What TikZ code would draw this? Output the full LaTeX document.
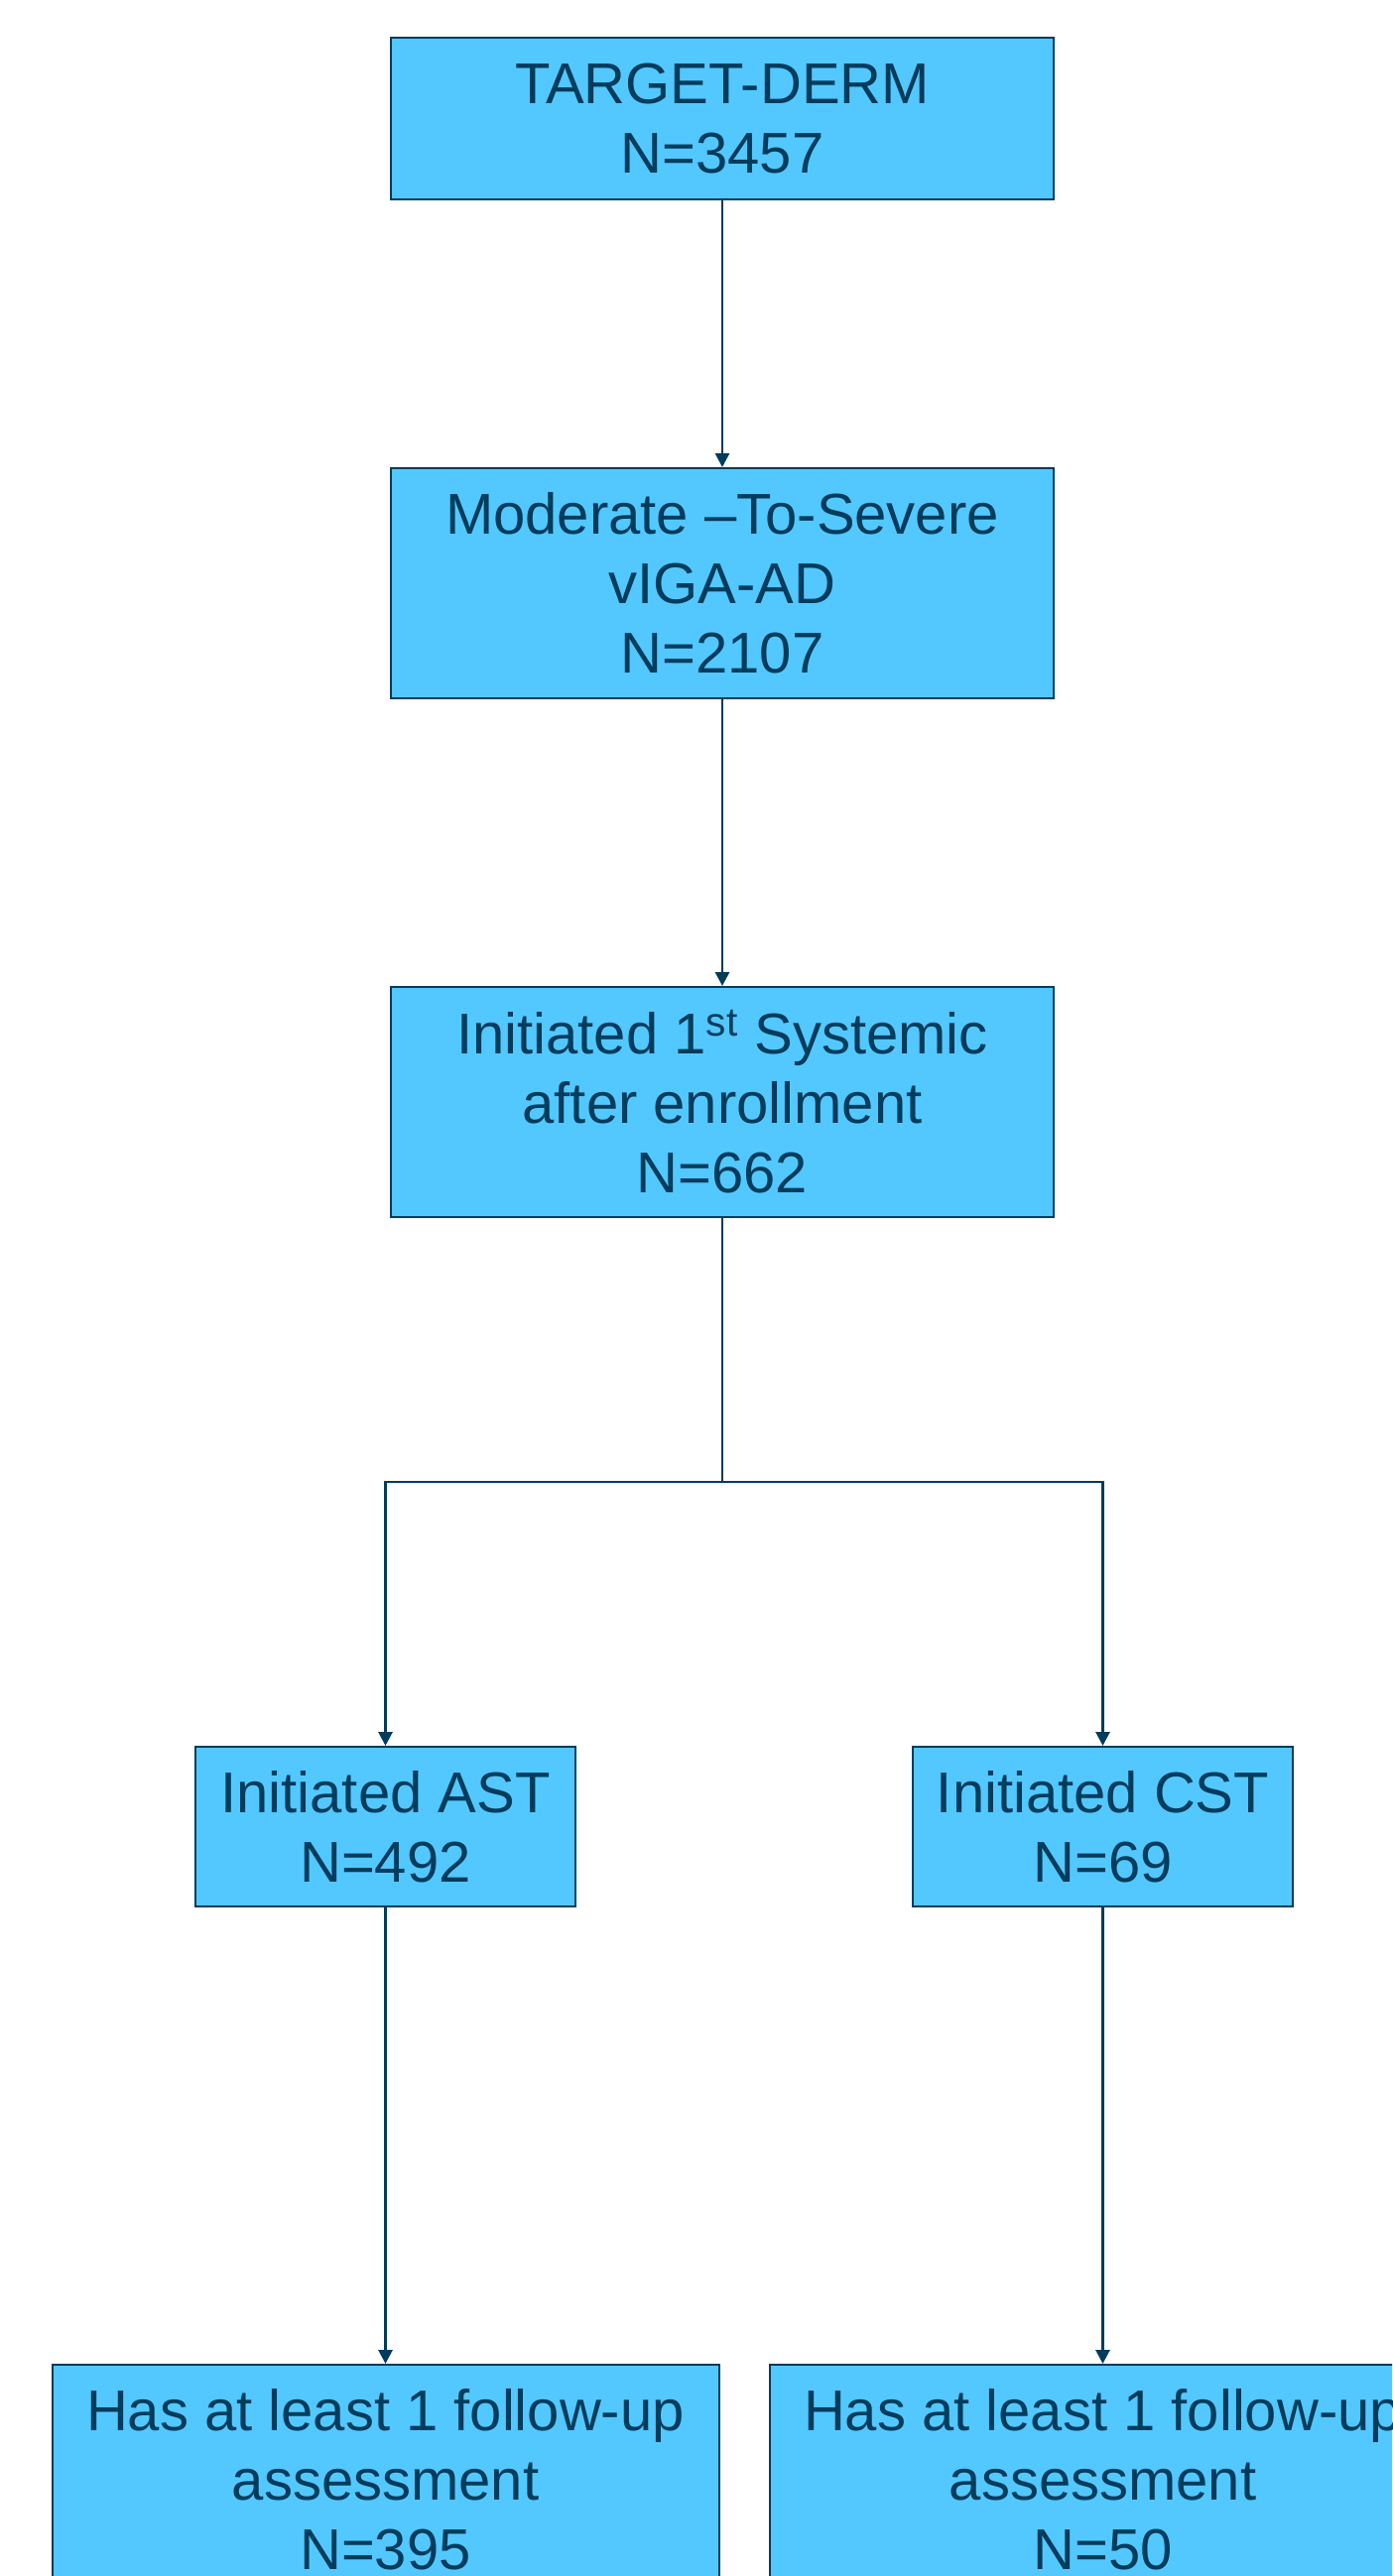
\documentclass[tikz,border=0pt]{standalone}
\usepackage{fontspec}
\setmainfont{Liberation Sans}
\usetikzlibrary{arrows.meta}
\definecolor{boxfill}{RGB}{83,200,255}
\definecolor{ink}{RGB}{0,60,92}
\tikzset{
  flowbox/.style={draw=ink, line width=1pt, fill=boxfill, text=ink, align=center,
    inner sep=0pt, font=\fontsize{29}{35}\selectfont},
  conn/.style={draw=ink, line width=1.4pt},
  arr/.style={conn, -{Triangle[length=7pt,width=7pt]}}
}
\begin{document}
\begin{tikzpicture}[x=0.5pt,y=-0.5pt]
\clip (0,0) rectangle (1403,2597);
\useasboundingbox (0,0) rectangle (1403,2597);
\fill[white] (0,0) rectangle (1403,2597);
\node[flowbox, minimum width=334pt, minimum height=81.5pt] (b1) at (728,119.5) {TARGET-DERM\\N=3457};
\node[flowbox, minimum width=334pt, minimum height=116pt] (b2) at (728,588) {Moderate –To-Severe\\vIGA-AD\\N=2107};
\node[flowbox, minimum width=334pt, minimum height=116pt] (b3) at (728,1111) {Initiated 1\textsuperscript{st} Systemic\\after enrollment\\N=662};
\node[flowbox, minimum width=191.5pt, minimum height=80.5pt] (ast) at (388.5,1841.5) {Initiated AST\\N=492};
\node[flowbox, minimum width=191.5pt, minimum height=80.5pt] (cst) at (1111.5,1841.5) {Initiated CST\\N=69};
\node[flowbox, minimum width=336pt, minimum height=116pt] (bl) at (388.5,2500) {Has at least 1 follow-up\\assessment\\N=395};
\node[flowbox, minimum width=336pt, minimum height=116pt] (br) at (1111.5,2500) {Has at least 1 follow-up\\assessment\\N=50};
\coordinate (split) at (728,1494);
\draw[arr] (b1.south) -- (b2.north);
\draw[arr] (b2.south) -- (b3.north);
\draw[conn] (b3.south) -- (split);
\draw[arr] (split) -| (ast.north);
\draw[arr] (split) -| (cst.north);
\draw[arr] (ast.south) -- (bl.north);
\draw[arr] (cst.south) -- (br.north);
\end{tikzpicture}
\end{document}
